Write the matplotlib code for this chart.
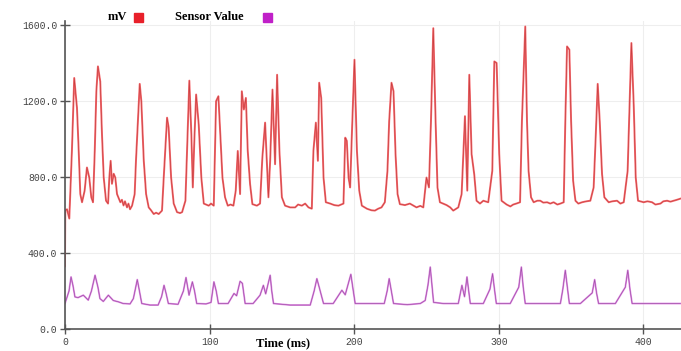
import matplotlib
matplotlib.use("Agg")
import matplotlib.pyplot as plt
from matplotlib.patches import Rectangle

# mV trace (time in ms, value in mV)
mv_t = [0.0, 0.2, 1.4, 3.0, 4.8, 6.4, 8.3, 9.5, 10.6, 11.8, 13.6, 15.2, 16.8, 18.2, 19.4,
        20.6, 21.7, 22.8, 24.4, 25.6, 26.8, 28.4, 29.8, 30.7, 31.6, 32.5, 33.7, 34.8, 36.0,
        38.3, 39.4, 40.5, 41.5, 42.9, 43.9, 45.0, 46.4, 48.2, 49.1, 51.7, 52.8, 54.5, 56.1,
        57.9, 59.5, 61.4, 63.0, 64.8, 67.1, 68.3, 70.6, 71.7, 73.4, 75.2, 77.5, 79.6, 81.0,
        83.3, 84.4, 86.0, 87.4, 88.4, 89.5, 90.7, 92.5, 94.3, 96.0, 97.6, 99.4, 101.0, 102.9,
        104.5, 106.1, 107.3, 108.9, 110.7, 112.6, 114.5, 116.5, 118.1, 119.5, 121.1, 122.3,
        123.7, 125.1, 126.4, 128.0, 129.6, 132.7, 134.9, 136.5, 138.4, 139.6, 140.7, 141.9,
        143.5, 145.3, 146.7, 148.3, 150.0, 152.2, 155.7, 159.2, 161.2, 163.8, 166.1, 168.4,
        170.7, 171.8, 173.5, 174.9, 175.8, 177.2, 178.8, 180.4, 183.4, 186.2, 189.1, 192.6,
        193.8, 194.9, 196.1, 197.2, 198.4, 200.2, 201.9, 203.5, 205.3, 208.8, 211.8, 214.3,
        216.6, 218.9, 221.2, 223.0, 224.2, 225.8, 227.2, 228.6, 230.0, 231.6, 235.1, 238.5,
        240.8, 243.1, 245.7, 247.8, 250.0, 251.7, 253.1, 254.7, 256.3, 257.6, 259.3, 263.9,
        266.4, 268.5, 272.0, 274.3, 276.6, 278.2, 279.6, 281.2, 283.0, 284.6, 287.0, 289.3,
        292.7, 295.5, 296.9, 298.5, 300.3, 301.9, 305.4, 308.0, 310.0, 312.1, 314.7, 316.0,
        318.3, 319.5, 320.6, 322.3, 324.1, 326.6, 328.7, 330.8, 333.4, 335.6, 337.9, 340.5,
        342.6, 344.9, 346.0, 347.2, 348.8, 350.0, 351.4, 353.0, 355.0, 357.6, 360.6, 363.3,
        365.6, 367.0, 368.4, 369.8, 371.4, 373.0, 376.0, 378.5, 381.8, 384.1, 386.4, 389.1,
        391.7, 393.3, 394.7, 396.3, 400.2, 402.8, 406.0, 408.3, 411.8, 413.8, 416.4, 418.7,
        421.0, 423.2, 425.6]
mv_v = [330, 623, 630, 581, 937, 1321, 1164, 937, 710, 667, 728, 850, 797, 693, 667,
        937, 1251, 1382, 1303, 1024, 797, 675, 660, 800, 885, 764, 817, 797, 710,
        667, 680, 650, 672, 640, 660, 630, 649, 710, 885, 1290, 1199, 885, 710,
        640, 625, 605, 612, 605, 623, 797, 1112, 1060, 797, 660, 615, 610, 615,
        675, 937, 1307, 1024, 745, 1000, 1234, 1076, 797, 660, 655, 649, 660, 649,
        1199, 1225, 1042, 797, 693, 649, 655, 649, 728, 937, 710, 1251,
        1155, 1216, 937, 763, 657, 649, 660, 902, 1086, 885, 693, 885,
        1260, 867, 1338, 937, 693, 649, 640, 640, 655, 649, 660, 640,
        633, 937, 1086, 885, 1296, 1216, 797, 667, 660, 652, 649, 660,
        1007, 990, 797, 745, 1024, 1417, 937, 728, 649, 633, 625, 623,
        633, 640, 667, 832, 1094, 1296, 1251, 920, 710, 657, 652, 660,
        650, 640, 648, 640, 797, 745, 1094, 1583, 1094, 745, 667, 652,
        640, 623, 640, 710, 1120, 728, 1338, 920, 815, 675, 660, 675,
        667, 832, 1408, 1400, 920, 675, 655, 645, 655, 660, 667, 1094,
        1592, 1094, 832, 693, 667, 675, 675, 665, 667, 660, 667, 655,
        660, 667, 1094, 1487, 1470, 1094, 780, 675, 660, 667, 672, 675,
        745, 1007, 1290, 1094, 815, 693, 667, 672, 675, 660, 667, 832,
        1505, 1181, 797, 675, 667, 672, 667, 655, 660, 672, 675, 670,
        675, 680, 686]

# Sensor value trace
sv_t = [0, 2.8, 4.2, 5.5, 6.9, 9.0, 12.7, 16.1, 18.3, 20.8, 22.8, 24.2, 26.5, 30.0, 33.4,
        36.9, 40.3, 45.0, 47.3, 48.8, 50.0, 51.5, 53.1, 58.8, 64.4, 66.8, 68.5, 70.0, 71.5,
        78.2, 81.9, 83.7, 85.8, 88.1, 89.6, 91.1, 97.6, 101.0, 103.0, 104.6, 106.1, 112.8,
        116.9, 118.7, 121.1, 122.7, 124.6, 130.1, 134.9, 137.2, 138.8, 141.9, 143.0, 144.2,
        155.7, 169.6, 172.3, 174.2, 175.8, 178.8, 185.5, 191.5, 193.8, 197.7, 199.2, 200.7,
        211.1, 220.8, 222.8, 224.2, 225.7, 227.2, 236.7, 245.7, 249.1, 251.0, 252.6, 253.8,
        254.9, 261.8, 272.0, 274.5, 276.3, 278.0, 279.2, 280.3, 289.3, 293.9, 295.7, 297.0,
        298.3, 307.9, 313.8, 315.6, 316.9, 318.3, 332.2, 342.6, 344.3, 346.0, 347.4, 348.8,
        356.4, 364.6, 366.3, 367.6, 369.0, 380.6, 387.5, 389.2, 390.7, 392.2, 404.8, 425.6]
sv_v = [134, 200, 274, 230, 169, 165, 178, 152, 200, 283, 220, 160, 145, 178, 150,
        143, 134, 132, 160, 215, 260, 200, 134, 126, 126, 170, 230, 185, 134,
        130, 200, 271, 178, 248, 200, 134, 132, 140, 248, 200, 134, 134,
        187, 175, 251, 240, 134, 134, 178, 230, 185, 283, 200, 134,
        126, 126, 200, 265, 220, 134, 134, 204, 180, 288, 210, 134,
        134, 134, 200, 265, 200, 134, 128, 134, 150, 230, 326, 230,
        140, 134, 134, 230, 170, 274, 200, 134, 134, 210, 291, 210,
        134, 134, 220, 326, 220, 134, 134, 134, 210, 309, 220, 134,
        134, 190, 260, 190, 134, 134, 220, 309, 210, 134, 134, 134]

y_ticks = [0, 400, 800, 1200, 1600]
y_labels = ["0.0", "400.0", "800.0", "1200.0", "1600.0"]
x_ticks = [0, 100, 200, 300, 400]

fig = plt.figure(figsize=(6.81, 3.51), dpi=100)
ax = fig.add_axes([0.0954, 0.0627, 0.9046, 0.877])

# soft coloured stroke with a darker core, like the original rendering
ax.plot(mv_t, mv_v, color="#f45258", lw=1.4, alpha=0.85)
ax.plot(mv_t, mv_v, color="#c84040", lw=0.5)
ax.plot(sv_t, sv_v, color="#dc7ee0", lw=1.3, alpha=0.85)
ax.plot(sv_t, sv_v, color="#a050a8", lw=0.5)

ax.set_xlim(0, 426)
ax.set_ylim(0, 1620)
ax.set_yticks(y_ticks)
ax.set_yticklabels(y_labels)
ax.set_xticks(x_ticks)
ax.grid(True, color="#eeeeee", lw=0.8)
ax.set_axisbelow(True)

for s in ["top", "right"]:
    ax.spines[s].set_visible(False)
for s in ["left", "bottom"]:
    ax.spines[s].set_color("#555555")
    ax.spines[s].set_linewidth(1.2)

ax.tick_params(direction="inout", length=7, width=1, color="#555555",
               labelsize=7, labelcolor="#444444", pad=2)
for lab in ax.get_xticklabels() + ax.get_yticklabels():
    lab.set_family("Liberation Mono")

# legend drawn as text + coloured squares
fig.text(108 / 681, 1 - 17 / 351, "mV", family="Liberation Serif", weight="bold",
         fontsize=9, va="center", ha="left")
fig.patches.append(Rectangle((134 / 681, 1 - 22 / 351), 9 / 681, 9 / 351,
                             transform=fig.transFigure, color="#e8202a"))
fig.text(175 / 681, 1 - 17 / 351, "Sensor Value", family="Liberation Serif",
         weight="bold", fontsize=9, va="center", ha="left")
fig.patches.append(Rectangle((263 / 681, 1 - 22 / 351), 9 / 681, 9 / 351,
                             transform=fig.transFigure, color="#c020c8"))

fig.text(283 / 681, 1 - 343 / 351, "Time (ms)", family="Liberation Serif",
         weight="bold", fontsize=9, va="center", ha="center")

fig.savefig("out.png", dpi=100)
